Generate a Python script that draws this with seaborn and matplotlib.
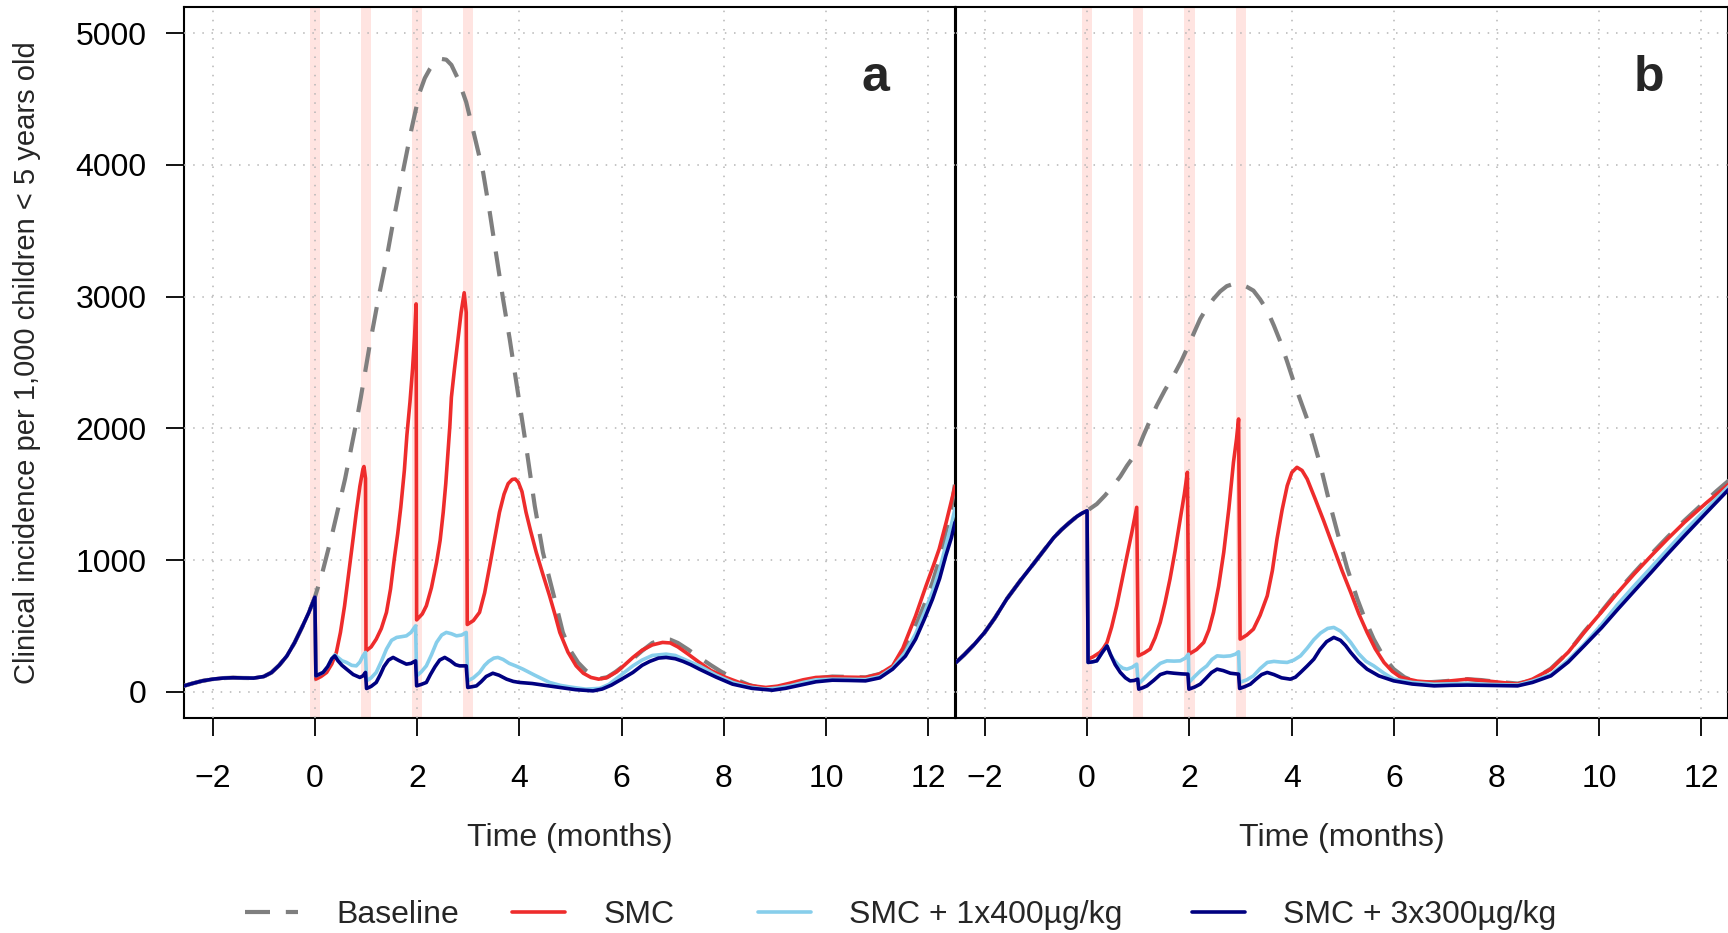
import matplotlib
matplotlib.use("Agg")
import matplotlib.pyplot as plt
from matplotlib.lines import Line2D
import seaborn as sns
import pandas as pd

# ---- data (time in months, incidence per 1,000 children) ----
smc_rounds = [0, 1, 2, 3]
x_ticks = [-2, 0, 2, 4, 6, 8, 10, 12]
y_ticks = [0, 1000, 2000, 3000, 4000, 5000]
series_names = ["Baseline", "SMC", "SMC + 1x400\u00b5g/kg", "SMC + 3x300\u00b5g/kg"]
series_colors = ["#7f7f7f", "#ee2c2c", "#87ceeb", "#000080"]

# panel a: shared trajectory before first SMC round
pre_a_t = [-2.56, -2.4, -2.2, -2.0, -1.8, -1.6, -1.4, -1.2, -1.0, -0.85, -0.7, -0.55, -0.4,
           -0.25, -0.12, 0.0]
pre_a_v = [44, 62, 82, 95, 103, 106, 104, 103, 115, 145, 200, 270, 370, 490, 600, 718]

base_a_t = [0.13, 0.33, 0.59, 0.81, 0.90, 1.07, 1.24, 1.40, 1.53, 1.72, 1.89, 2.05, 2.15, 2.25,
            2.35, 2.47, 2.57, 2.67, 2.80, 2.96, 3.12, 3.29, 3.42, 3.55, 3.68, 3.81, 3.97, 4.13,
            4.30, 4.46, 4.59, 4.69, 4.85, 5.00, 5.15, 5.30, 5.45, 5.58, 5.72, 5.88, 6.05, 6.22,
            6.40, 6.60, 6.80, 6.95, 7.10, 7.30, 7.52, 7.75, 7.97, 8.25, 8.50, 8.75, 8.95, 9.20,
            9.47, 9.80, 10.12, 10.45, 10.77, 11.05, 11.30, 11.55, 11.75, 11.92, 12.08, 12.22,
            12.34, 12.45, 12.52]
base_a_v = [880, 1184, 1615, 2045, 2238, 2628, 2983, 3286, 3565, 3945, 4274, 4553, 4660, 4730,
            4780, 4806, 4800, 4760, 4654, 4477, 4223, 3945, 3641, 3311, 2983, 2679, 2273, 1868,
            1412, 1058, 855, 703, 450, 310, 220, 160, 115, 100, 110, 150, 200, 250,
            310, 370, 399, 395, 370, 320, 260, 200, 146, 90, 50, 25, 19, 35,
            70, 100, 115, 112, 108, 135, 196, 330, 500, 660, 830, 1010,
            1210, 1400, 1580]

smc_a_t = [0.02, 0.12, 0.23, 0.33, 0.42, 0.50, 0.58, 0.68, 0.75, 0.81, 0.88, 0.94, 0.96, 0.99,
           1.00, 1.10, 1.20, 1.30, 1.40, 1.48, 1.55, 1.62, 1.68, 1.75, 1.80, 1.86, 1.91, 1.95,
           1.98, 1.99, 2.10, 2.18, 2.28, 2.38, 2.45, 2.51, 2.56, 2.60, 2.64, 2.67, 2.73, 2.80,
           2.86, 2.92, 2.96, 2.98, 3.10, 3.22, 3.32, 3.42, 3.52, 3.61, 3.70, 3.78, 3.86, 3.92,
           3.98, 4.05, 4.13, 4.22, 4.33, 4.46, 4.59, 4.70, 4.79, 4.95, 5.11, 5.25, 5.40, 5.55,
           5.70, 5.90, 6.05, 6.22, 6.40, 6.60, 6.80, 6.95, 7.10, 7.30, 7.52, 7.75, 8.04, 8.30,
           8.55, 8.82, 9.05, 9.30, 9.55, 9.80, 10.10, 10.45, 10.77, 11.05, 11.30, 11.50, 11.75,
           11.95, 12.10, 12.21, 12.35, 12.52]
smc_a_v = [95, 115, 146, 210, 298, 450, 650, 956, 1170, 1362, 1560, 1690, 1710, 1620,
           310, 340, 399, 480, 602, 780, 1000, 1200, 1400, 1680, 1950, 2200, 2450, 2700,
           2945, 545, 590, 652, 790, 982, 1150, 1362, 1580, 1800, 2020, 2236, 2450, 2680,
           2880, 3030, 2880, 510, 540, 602, 750, 956, 1170, 1362, 1500, 1580, 1612, 1615,
           1590, 1520, 1362, 1220, 1058, 890, 728, 580, 450, 300, 196, 140, 108, 95,
           105, 150, 200, 260, 315, 355, 374, 370, 340, 285, 222, 160, 108, 70,
           45, 32, 42, 65, 90, 108, 112, 110, 108, 135, 196, 330, 576,
           800, 960, 1083, 1290, 1560]

iv1_a_t = [0.02, 0.10, 0.16, 0.25, 0.33, 0.39, 0.45, 0.53, 0.62, 0.72, 0.81, 0.88, 0.94, 0.99,
           1.01, 1.10, 1.20, 1.30, 1.40, 1.50, 1.60, 1.70, 1.79, 1.88, 1.97, 1.99, 2.08, 2.18,
           2.28, 2.38, 2.48, 2.57, 2.67, 2.77, 2.87, 2.96, 2.99, 3.10, 3.22, 3.32, 3.40, 3.50,
           3.58, 3.68, 3.80, 3.93, 4.07, 4.30, 4.59, 4.80, 5.00, 5.30, 5.57, 5.75, 5.90, 6.05,
           6.22, 6.40, 6.60, 6.87, 7.05, 7.20, 7.52, 7.85, 8.17, 8.50, 8.82, 9.05, 9.30, 9.55,
           9.80, 10.10, 10.45, 10.77, 11.05, 11.30, 11.55, 11.75, 11.92, 12.08, 12.22, 12.34,
           12.45, 12.52]
iv1_a_v = [120, 135, 146, 190, 250, 280, 260, 235, 222, 200, 196, 225, 272, 298,
           82, 105, 146, 230, 323, 390, 412, 418, 424, 450, 500, 120, 150, 196,
           280, 374, 430, 450, 440, 424, 430, 450, 82, 105, 146, 200, 230, 255,
           260, 245, 215, 195, 171, 125, 70, 48, 35, 19, 25, 55, 100, 145,
           196, 240, 275, 285, 275, 250, 196, 125, 70, 35, 19, 28, 45, 70,
           90, 95, 94, 92, 115, 180, 300, 440, 600, 760, 930, 1110,
           1270, 1390]

iv3_a_t = [0.02, 0.10, 0.16, 0.25, 0.33, 0.39, 0.45, 0.53, 0.62, 0.75, 0.88, 0.94, 0.99, 1.01,
           1.10, 1.20, 1.28, 1.35, 1.44, 1.53, 1.65, 1.79, 1.88, 1.97, 1.99, 2.08, 2.18, 2.26,
           2.35, 2.44, 2.54, 2.65, 2.75, 2.83, 2.96, 2.99, 3.08, 3.16, 3.25, 3.35, 3.48, 3.60,
           3.75, 3.88, 4.00, 4.25, 4.50, 4.79, 5.10, 5.44, 5.62, 5.80, 6.00, 6.22, 6.40, 6.55,
           6.72, 6.87, 7.05, 7.20, 7.35, 7.52, 7.85, 8.17, 8.55, 8.95, 9.20, 9.50, 9.80, 10.12,
           10.45, 10.77, 11.05, 11.30, 11.55, 11.75, 11.92, 12.08, 12.22, 12.34, 12.45, 12.52]
iv3_a_v = [120, 135, 146, 190, 250, 272, 235, 200, 171, 130, 108, 120, 146, 24,
           40, 70, 130, 190, 240, 260, 235, 209, 215, 234, 44, 55, 70, 130,
           190, 240, 260, 235, 205, 196, 196, 32, 38, 44, 75, 115, 140, 125,
           95, 78, 70, 62, 48, 32, 15, 6, 20, 50, 95, 146, 200, 230,
           255, 260, 250, 230, 205, 171, 110, 57, 25, 11, 25, 50, 75, 87,
           85, 82, 105, 171, 270, 399, 550, 703, 860, 1032, 1170, 1286]

# panel b: shared trajectory before first SMC round
pre_b_t = [-2.56, -2.40, -2.20, -2.00, -1.80, -1.57, -1.30, -1.05, -0.80, -0.65, -0.50, -0.35,
           -0.20, -0.10, 0.0]
pre_b_v = [222, 280, 360, 450, 560, 703, 845, 969, 1095, 1170, 1230, 1282, 1330, 1355, 1374]

base_b_t = [0.19, 0.35, 0.51, 0.65, 0.78, 0.88, 0.97, 1.10, 1.23, 1.36, 1.52, 1.69, 1.84, 1.98,
            2.10, 2.21, 2.34, 2.47, 2.60, 2.73, 2.86, 3.00, 3.12, 3.25, 3.38, 3.52, 3.65, 3.78,
            3.91, 4.04, 4.17, 4.30, 4.43, 4.56, 4.72, 4.89, 5.08, 5.28, 5.44, 5.60, 5.80, 5.99,
            6.20, 6.45, 6.70, 7.00, 7.43, 7.70, 8.00, 8.41, 8.70, 9.06, 9.40, 9.71, 10.05, 10.37,
            10.69, 11.02, 11.34, 11.67, 12.06, 12.30, 12.54]
base_b_v = [1425, 1490, 1564, 1635, 1716, 1770, 1818, 1944, 2060, 2172, 2290, 2400, 2510, 2628,
            2735, 2831, 2915, 2983, 3040, 3080, 3097, 3095, 3075, 3046, 2980, 2894, 2780, 2654,
            2505, 2350, 2210, 2070, 1895, 1716, 1460, 1210, 940, 703, 540, 399, 260, 171,
            110, 70, 72, 80, 95, 88, 75, 62, 85, 175, 300, 455, 610, 765,
            905, 1045, 1175, 1300, 1440, 1525, 1605]

smc_b_t = [0.02, 0.12, 0.25, 0.32, 0.39, 0.48, 0.58, 0.68, 0.78, 0.88, 0.97, 1.00, 1.12, 1.23,
           1.33, 1.43, 1.52, 1.62, 1.72, 1.82, 1.90, 1.96, 1.99, 2.14, 2.28, 2.38, 2.47, 2.57,
           2.67, 2.77, 2.86, 2.92, 2.96, 2.99, 3.12, 3.25, 3.38, 3.52, 3.62, 3.71, 3.81, 3.91,
           4.00, 4.10, 4.20, 4.30, 4.46, 4.62, 4.80, 4.98, 5.15, 5.31, 5.47, 5.63, 5.80, 5.96,
           6.13, 6.45, 6.78, 7.10, 7.43, 7.90, 8.41, 8.70, 9.06, 9.40, 9.71, 10.05, 10.37, 10.69,
           11.02, 11.34, 11.67, 12.10, 12.54]
smc_b_v = [247, 265, 298, 330, 374, 490, 652, 840, 1032, 1220, 1400, 272, 295, 323,
           410, 526, 670, 855, 1070, 1311, 1500, 1666, 285, 320, 374, 470, 602, 800,
           1058, 1390, 1742, 1920, 2071, 399, 430, 475, 580, 728, 920, 1159, 1380, 1564,
           1665, 1704, 1680, 1615, 1460, 1300, 1110, 920, 754, 590, 450, 325, 222, 155,
           108, 80, 70, 82, 95, 78, 57, 95, 171, 300, 450, 605, 754, 895,
           1032, 1160, 1286, 1435, 1577]

iv1_b_t = [0.02, 0.10, 0.19, 0.30, 0.39, 0.45, 0.51, 0.62, 0.70, 0.78, 0.88, 0.97, 1.00, 1.10,
           1.20, 1.30, 1.43, 1.56, 1.70, 1.82, 1.92, 1.98, 1.99, 2.10, 2.22, 2.34, 2.44, 2.54,
           2.67, 2.80, 2.90, 2.96, 2.98, 3.12, 3.25, 3.38, 3.52, 3.65, 3.78, 3.91, 4.04, 4.17,
           4.30, 4.43, 4.56, 4.70, 4.82, 4.95, 5.05, 5.15, 5.30, 5.45, 5.60, 5.80, 5.99, 6.35,
           6.78, 7.10, 7.43, 7.90, 8.41, 8.70, 9.06, 9.40, 9.71, 10.05, 10.37, 10.69, 11.02,
           11.34, 11.67, 12.10, 12.54]
iv1_b_v = [222, 226, 234, 300, 348, 290, 247, 200, 178, 171, 185, 209, 57, 95,
           135, 171, 215, 234, 232, 234, 255, 285, 70, 115, 160, 196, 245, 272,
           268, 272, 285, 303, 70, 90, 120, 175, 222, 230, 225, 222, 240, 272,
           330, 395, 445, 480, 488, 460, 420, 374, 290, 230, 196, 140, 95, 70,
           57, 60, 62, 55, 50, 80, 130, 240, 360, 510, 665, 805, 944,
           1080, 1220, 1390, 1560]

iv3_b_t = [0.02, 0.10, 0.19, 0.30, 0.39, 0.46, 0.55, 0.65, 0.75, 0.84, 0.92, 0.99, 1.01, 1.09,
           1.17, 1.30, 1.43, 1.56, 1.70, 1.85, 1.97, 1.99, 2.10, 2.21, 2.32, 2.43, 2.54, 2.66,
           2.80, 2.96, 2.98, 3.08, 3.19, 3.30, 3.41, 3.52, 3.65, 3.80, 3.97, 4.07, 4.17, 4.30,
           4.43, 4.55, 4.68, 4.82, 4.95, 5.05, 5.15, 5.30, 5.47, 5.70, 5.99, 6.35, 6.78, 7.10,
           7.43, 7.90, 8.41, 8.70, 9.06, 9.40, 9.71, 10.05, 10.37, 10.69, 11.02, 11.34, 11.67,
           12.10, 12.54]
iv3_b_v = [222, 226, 234, 300, 348, 280, 205, 146, 105, 82, 85, 95, 19, 30,
           44, 85, 130, 146, 140, 135, 133, 19, 35, 57, 100, 145, 171, 160,
           140, 133, 24, 38, 57, 95, 130, 146, 130, 105, 95, 110, 146, 195,
           247, 320, 380, 412, 390, 350, 298, 230, 171, 120, 82, 58, 44, 48,
           50, 47, 44, 70, 120, 225, 348, 485, 627, 765, 906, 1045, 1184,
           1360, 1539]


def build_panel(pre_t, pre_v, runs):
    frames = []
    for name, (t, v) in zip(series_names, runs):
        frames.append(pd.DataFrame({"time": pre_t + t, "incidence": pre_v + v, "series": name}))
    return frames


panels = {
    "a": build_panel(pre_a_t, pre_a_v, [(base_a_t, base_a_v), (smc_a_t, smc_a_v),
                                         (iv1_a_t, iv1_a_v), (iv3_a_t, iv3_a_v)]),
    "b": build_panel(pre_b_t, pre_b_v, [(base_b_t, base_b_v), (smc_b_t, smc_b_v),
                                         (iv1_b_t, iv1_b_v), (iv3_b_t, iv3_b_v)]),
}

sns.set_theme(style="ticks")
plt.rcParams["font.family"] = ["Liberation Sans", "DejaVu Sans"]

W, H = 1728, 933
fig = plt.figure(figsize=(W / 100, H / 100), dpi=100)
ax_a = fig.add_axes([184 / W, 1 - 718 / H, 771 / W, 711 / H])
ax_b = fig.add_axes([956 / W, 1 - 718 / H, 772 / W, 711 / H])

dash_style = (0, (6, 3.8))
widths = [3.0, 2.6, 2.6, 2.6]

for label, ax in zip(["a", "b"], [ax_a, ax_b]):
    for r in smc_rounds:
        ax.axvspan(r - 0.1, r + 0.1, color="#ffe4e1", lw=0, zorder=0.1)
    for i, df in enumerate(panels[label]):
        sns.lineplot(data=df, x="time", y="incidence", ax=ax, sort=False, estimator=None,
                     color=series_colors[i], linewidth=widths[i], zorder=3 + i,
                     linestyle=dash_style if i == 0 else "-", legend=False)
    ax.set_xlim(-2.56, 12.52)
    ax.set_ylim(-200, 5200)
    ax.set_xticks(x_ticks)
    ax.set_yticks(y_ticks)
    ax.grid(True, color="#b5b5b5", linestyle=(0, (1, 5)), linewidth=1.1)
    ax.set_axisbelow(False)
    for sp in ax.spines.values():
        sp.set_visible(True)
        sp.set_linewidth(1.5)
        sp.set_color("black")
    ax.tick_params(axis="both", direction="out", length=13, width=1.3, labelsize=23,
                   color="black", labelcolor="black")
    ax.tick_params(axis="x", pad=20)
    ax.tick_params(axis="y", pad=14)
    ax.set_xlabel("Time (months)", fontsize=23)
    ax.xaxis.set_label_coords(0.5, -0.147)
    ax.text(0.897, 0.9, label, transform=ax.transAxes, fontsize=36, fontweight="bold",
            ha="center", va="center")

ax_a.set_ylabel("Clinical incidence per 1,000 children < 5 years old", fontsize=21)
ax_a.yaxis.set_label_coords(-0.185, 0.5)
ax_b.set_ylabel("")
ax_b.tick_params(axis="y", left=False, labelleft=False)

# legend along the bottom, one entry at a time to keep R-like spacing
legend_x = [245, 512, 758, 1192]
for i, name in enumerate(series_names):
    h = Line2D([], [], color=series_colors[i], linewidth=widths[i],
               linestyle=dash_style if i == 0 else "-")
    fig.legend(handles=[h], labels=[name], loc="center left",
               bbox_to_anchor=(legend_x[i] / W, 1 - 915 / H), frameon=False,
               borderpad=0, borderaxespad=0, handlelength=1.66, handletextpad=1.19,
               fontsize=23)

fig.savefig("out.png", dpi=100)
